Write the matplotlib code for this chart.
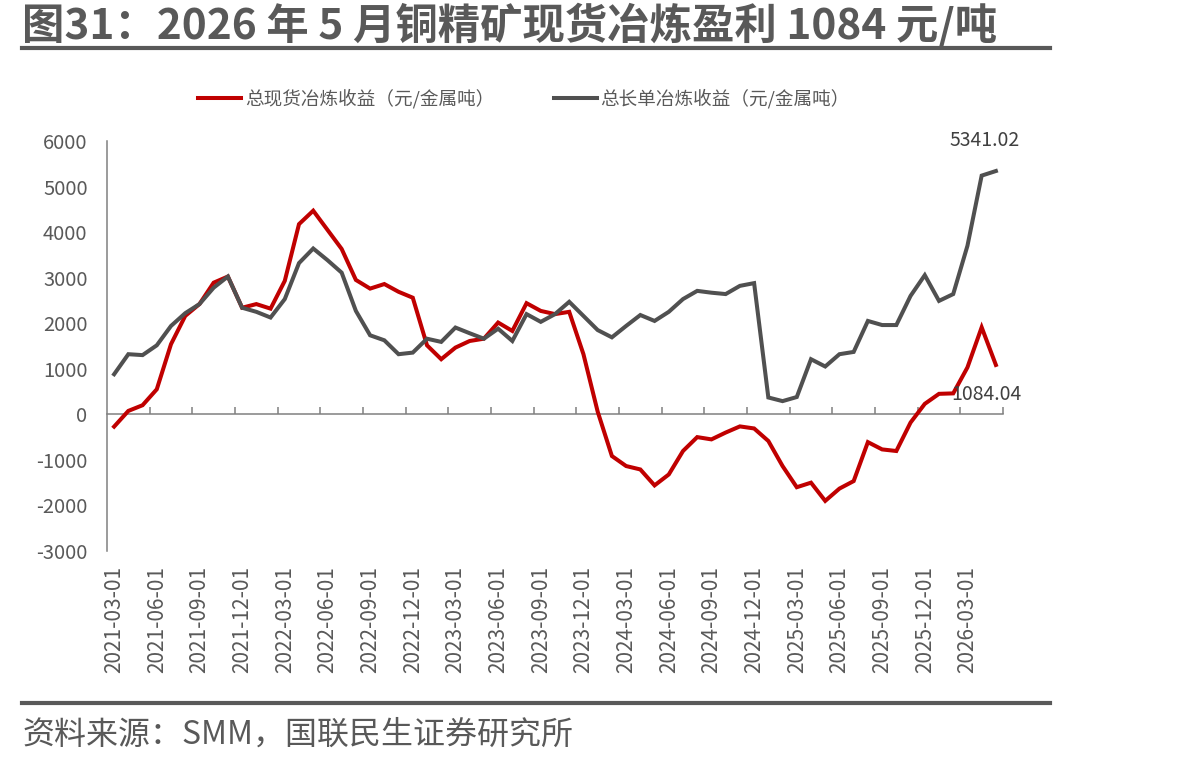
import numpy as np
import matplotlib.pyplot as plt
from matplotlib.lines import Line2D

plt.rcParams['font.family'] = ['Noto Sans CJK SC', 'DejaVu Sans']
plt.rcParams['axes.unicode_minus'] = False

# monthly, 2021-03 .. 2026-05
months = [f'{2021 + (m + 2) // 12}-{(m + 2) % 12 + 1:02d}-01' for m in range(63)]

spot = [-270, 75, 200, 550, 1540, 2160, 2420, 2890, 3025, 2340,
        2420, 2320, 2930, 4175, 4470, 4050, 3630, 2950, 2760, 2860,
        2690, 2560, 1515, 1210, 1465, 1610, 1660, 2015, 1830, 2440,
        2270, 2200, 2250, 1320, 60, -915, -1135, -1210, -1560, -1320,
        -805, -500, -550, -400, -265, -310, -585, -1135, -1600, -1500,
        -1900, -1630, -1465, -610, -770, -805, -180, 230, 450, 460,
        1030, 1910, 1084.04]

longterm = [880, 1320, 1300, 1515, 1940, 2220, 2420, 2780, 3025, 2340,
            2250, 2125, 2530, 3320, 3640, 3385, 3110, 2270, 1735, 1625,
            1320, 1355, 1660, 1590, 1905, 1780, 1660, 1880, 1610, 2200,
            2030, 2200, 2470, 2160, 1850, 1690, 1940, 2180, 2050, 2250,
            2530, 2710, 2670, 2640, 2820, 2880, 370, 290, 380, 1210,
            1050, 1320, 1370, 2050, 1960, 1960, 2600, 3055, 2490, 2640,
            3700, 5240, 5341.02]

labels = ['总现货冶炼收益（元/金属吨）', '总长单冶炼收益（元/金属吨）']
title = '图31：2026 年 5 月铜精矿现货冶炼盈利 1084 元/吨'
source = '资料来源：SMM，国联民生证券研究所'

RED = '#C00000'
GRAY = '#505050'
TXT = '#595959'

fig = plt.figure(figsize=(11.99, 7.65), dpi=100)
ax = fig.add_axes([107 / 1199, 1 - 551 / 765, 896 / 1199, 410 / 765])

x = np.arange(len(months))
ax.plot(x, spot, color=RED, lw=2.9, label=labels[0], solid_joinstyle='miter')
ax.plot(x, longterm, color=GRAY, lw=2.9, label=labels[1], solid_joinstyle='miter')

ax.set_xlim(-0.5, len(months) - 0.5)
ax.set_ylim(-3000, 6000)
ax.set_yticks(np.arange(-3000, 6001, 1000))
ax.tick_params(axis='y', length=0, pad=14, labelsize=14.5, labelcolor=TXT)

ax.set_xticks(x[::3])
ax.set_xticklabels(months[::3], rotation=90, va='top', ha='center')
ax.tick_params(axis='x', length=0, pad=11, labelsize=15, labelcolor=TXT)

for s in ['top', 'right', 'bottom']:
    ax.spines[s].set_visible(False)
ax.spines['left'].set_color('#808080')
ax.spines['left'].set_linewidth(1.1)

# zero line with category tick marks
sec = ax.secondary_xaxis(3000 / 9000)
sec.set_xticks(np.arange(2.5, len(months), 3))
sec.set_xticklabels([])
sec.tick_params(axis='x', direction='in', length=5, width=1.1, color='#808080')
sec.spines['bottom'].set_color('#808080')
sec.spines['bottom'].set_linewidth(1.1)

ax.annotate(f'{longterm[-1]:.2f}', (x[-1], longterm[-1]), xytext=(-8, 22),
            textcoords='offset points', ha='center', va='center',
            fontsize=14, color='#404040')
ax.annotate(f'{spot[-1]:.2f}', (x[-1], spot[-1]), xytext=(-7, -21),
            textcoords='offset points', ha='center', va='center',
            fontsize=14, color='#404040')

fig.legend(loc='center', bbox_to_anchor=(524 / 1199, 1 - 99 / 765), ncol=2,
           frameon=False, fontsize=13.4, labelcolor=TXT, handlelength=2.3,
           handletextpad=0.2, columnspacing=3.2)

fig.text(22 / 1199, 1 - 25 / 765, title, fontsize=30.5, fontweight='bold',
         color=TXT, ha='left', va='center')
fig.text(22 / 1199, 1 - 735 / 765, source, fontsize=23, color=TXT,
         ha='left', va='center')
for yy in (48, 703):
    fig.add_artist(Line2D([22 / 1199, 1050 / 1199], [1 - yy / 765] * 2,
                          color=TXT, lw=3))

fig.savefig('out.png', dpi=100)
